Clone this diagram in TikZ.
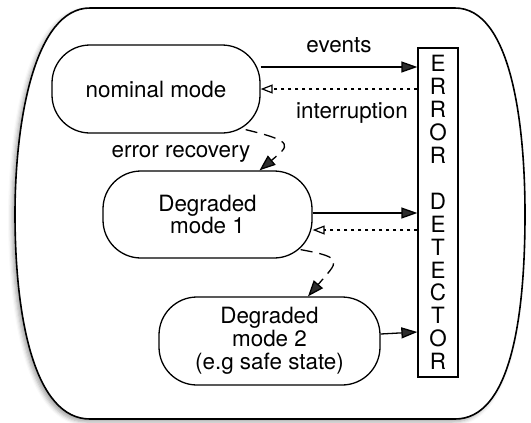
\documentclass[tikz,border=0pt]{standalone}
\usepackage{fontspec}
\setmainfont{TeX Gyre Heros}
\usetikzlibrary{arrows.meta,shadows.blur}

\tikzset{
	mode/.style={draw, line width=1.3bp, rounded corners=38bp, align=center, inner sep=0pt},
	flow/.style={line width=1.3bp, -{Triangle[length=16bp,width=11bp]}},
	interrupt/.style={line width=1.2bp, dash pattern=on 3bp off 4bp, -{Triangle[open,length=12bp,width=9bp]}},
	recovery/.style={line width=1.3bp, dash pattern=on 12bp off 7bp, -{Triangle[length=16bp,width=12bp]}}
}

\begin{document}
\begin{tikzpicture}[x=1bp, y=-1bp, font=\fontsize{22.5}{23}\selectfont]
			%%%%% START %%%%%
			\useasboundingbox (0,0) rectangle (531,422);
			
			\draw[line width=1.6bp, fill=white, blur shadow={shadow xshift=-3bp, shadow yshift=-3bp, shadow blur radius=4bp, shadow opacity=35}]
				(90,8) -- (455,8) .. controls (510,8) and (525,120) .. (525,214)
				.. controls (525,320) and (510,419) .. (455,419) -- (90,419)
				.. controls (35,419) and (15,320) .. (15,214)
				.. controls (15,120) and (35,8) .. (90,8) -- cycle;
			
			\node[mode, minimum width=208bp, minimum height=88bp] (nominal) at (156,89) {nominal mode};
			\node[mode, minimum width=209bp, minimum height=87bp] (deg1) at (207.5,214.5) {Degraded\\mode 1};
			\node[mode, minimum width=221bp, minimum height=88bp] (deg2) at (269.5,341) {Degraded\\mode 2\\(e.g safe state)};
			\node[draw, line width=1.3bp, minimum width=40bp, minimum height=329bp, inner sep=0pt, align=center] (detector) at (438,212.5)
				{E\\R\\R\\O\\R\\[23bp]D\\E\\T\\E\\C\\T\\O\\R};
			
			\node (events) at (339,45) {events};
			\node (interruption) at (352,113) {interruption};
			\node (recovery) at (181,154) {error recovery};
			
			\draw[flow] (nominal.east |- 0,67) -- (detector.west |- 0,67);
			\draw[interrupt] (detector.west |- 0,89) -- (nominal.east);
			\draw[recovery] ([xshift=-15bp,yshift=4bp]nominal.south east) .. controls +(50,12) and +(30,-25) .. ([xshift=52bp]deg1.north);
			
			\draw[flow] (deg1.east |- 0,213) -- (detector.west |- 0,213);
			\draw[interrupt] (detector.west |- 0,230) -- (deg1.east |- 0,230);
			\draw[recovery] ([xshift=-12bp,yshift=9bp]deg1.south east) .. controls +(45,8) and +(30,-35) .. ([xshift=38.5bp]deg2.north);
			
			\draw[flow] (deg2.east |- 0,334) -- (detector.west |- 0,332);
			%%%%% END %%%%%
\end{tikzpicture}
\end{document}
